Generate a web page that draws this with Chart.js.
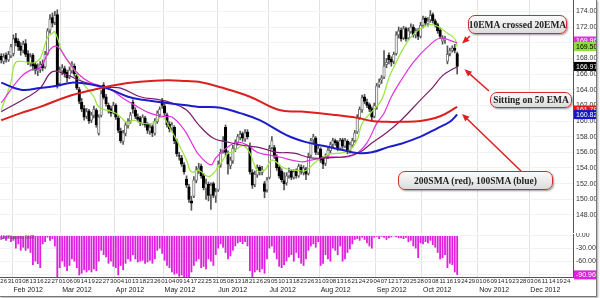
<!DOCTYPE html>
<html>
<head>
<meta charset="utf-8">
<script src="https://cdn.jsdelivr.net/npm/chart.js@4.4.0/dist/chart.umd.min.js"></script>
<style>
  html, body { margin: 0; padding: 0; background: #fff; }
  #wrap { position: relative; width: 600px; height: 298px; overflow: hidden; }
  #priceCanvas { position: absolute; left: 0; top: 0; }
  #wrCanvas { position: absolute; left: 0; top: 233px; }
  #frame { position: absolute; left: 0; top: 0; width: 596px; height: 296px; border-right: 1px solid #777; border-bottom: 1px solid #777; box-shadow: 1px 1px 2px rgba(0,0,0,.35); pointer-events: none; }
  .note { position: absolute; box-sizing: border-box; border: 1.5px solid #d02c2c; border-radius: 7px;
          background: linear-gradient(#fbfbfb, #dcdcdc); box-shadow: 1px 1px 2px rgba(0,0,0,.4);
          font-family: "Liberation Serif", serif; font-weight: bold; font-size: 9.5px; color: #222;
          display: flex; align-items: center; justify-content: center; white-space: nowrap; }
  #wrName { position: absolute; left: 1px; top: 234px; font: 6px "Liberation Sans", Arial, sans-serif; color: #555; }
</style>
</head>
<body>
<div id="wrap">
  <canvas id="priceCanvas" width="600" height="233"></canvas>
  <canvas id="wrCanvas" width="600" height="65"></canvas>
  <div id="wrName">Williams %R</div>
  <div class="note" style="left:468px;top:15px;width:99px;height:19px;">10EMA crossed 20EMA</div>
  <div class="note" style="left:490px;top:92px;width:82px;height:16px;">Sitting on 50 EMA</div>
  <div class="note" style="left:398px;top:171px;width:155px;height:19px;">200SMA (red), 100SMA (blue)</div>
  <div id="frame"></div>
</div>
<script>
// trading days, Jan 25 - Dec 27 2012
const holidays = ['2012-02-20', '2012-04-06', '2012-05-28', '2012-07-04', '2012-09-03', '2012-11-22', '2012-12-25'];
const dates = [];
for (let d = new Date(Date.UTC(2012, 0, 25)); d <= new Date(Date.UTC(2012, 11, 27)); d.setUTCDate(d.getUTCDate() + 1)) {
    const s = d.toISOString().slice(0, 10);
    if (d.getUTCDay() === 0 || d.getUTCDay() === 6 || holidays.includes(s)) continue;
    dates.push(s);
}
const monthNames = ['Jan', 'Feb', 'Mar', 'Apr', 'May', 'Jun', 'Jul', 'Aug', 'Sep', 'Oct', 'Nov', 'Dec'];

const opens = [
  168.3,167.6,168.4,167.8,168.3,168.6,170.6,170.2,169.6,169.0,
  169.9,168.6,167.4,168.4,167.2,166.4,166.6,167.3,166.9,168.6,
  171.6,173.2,172.6,173.6,164.8,166.4,166.7,166.2,165.6,166.4,
  167.0,165.8,164.0,162.4,161.6,160.6,161.3,160.1,160.7,161.4,
  158.4,160.7,164.6,163.1,162.0,161.6,161.1,162.0,160.4,158.7,
  157.4,158.4,159.4,160.0,162.4,161.4,160.5,160.4,159.7,160.4,
  159.6,158.7,159.3,158.4,159.9,160.8,162.6,161.9,160.8,159.6,
  159.1,159.2,157.4,155.6,155.3,154.4,152.6,151.6,149.8,150.4,
  152.4,153.7,154.2,153.0,151.4,151.9,150.6,152.0,150.4,151.2,
  154.4,156.2,159.2,155.8,154.3,154.9,156.4,157.2,157.9,158.4,
  157.7,158.6,156.8,153.4,151.9,153.1,154.1,153.4,152.0,151.2,
  152.8,156.6,156.6,155.4,154.1,153.6,152.4,152.1,153.0,153.6,
  152.8,153.6,153.0,154.1,153.4,153.9,153.3,155.6,157.6,157.8,
  156.0,156.4,155.3,154.6,155.5,156.2,157.0,157.5,157.3,156.5,
  157.6,156.8,157.4,156.2,156.9,157.5,158.6,160.4,161.4,163.1,
  162.4,162.1,161.6,160.6,161.8,164.6,165.2,165.6,167.2,168.4,
  167.9,167.6,168.6,171.0,171.6,170.6,171.8,170.6,171.4,172.0,
  171.0,171.6,170.8,172.2,173.1,172.4,172.9,173.6,172.8,172.3,
  171.6,170.2,170.4,167.6,168.6,169.0,169.3,168.6
];
const highs = [
  168.6,168.6,168.7,168.9,169.8,171.0,171.2,170.5,170.0,170.2,
  170.4,169.0,168.6,168.6,167.5,167.3,167.6,167.8,168.9,171.8,
  173.6,173.8,174.0,174.2,166.9,167.2,167.0,166.5,166.9,167.6,
  167.3,166.1,164.3,162.9,162.0,161.6,161.5,161.1,161.9,161.6,
  160.8,163.9,164.9,163.4,162.3,161.9,162.4,162.2,160.7,159.1,
  158.8,159.8,160.3,161.1,162.7,161.7,160.9,160.6,160.8,160.6,
  159.8,159.6,159.5,160.3,161.3,161.8,162.9,162.2,161.0,159.9,
  159.8,159.4,157.7,156.0,155.6,154.7,153.0,151.9,150.4,152.9,
  154.2,154.6,154.5,153.3,152.6,152.2,152.1,152.2,151.4,154.9,
  156.4,158.0,159.5,156.2,155.4,156.9,157.6,158.3,158.7,158.6,
  158.9,158.9,157.2,153.8,153.6,154.4,154.3,154.2,152.3,152.8,
  156.9,158.0,156.9,155.7,154.4,153.9,153.4,153.4,154.0,153.8,
  153.8,153.9,154.5,154.4,154.3,154.1,155.9,157.8,158.3,158.0,
  156.9,156.6,155.5,155.8,156.6,157.3,157.8,157.7,157.5,157.8,
  157.8,157.8,157.6,157.3,157.8,158.8,160.8,161.8,163.3,163.4,
  162.8,162.3,161.8,162.3,164.8,165.4,165.8,169.0,168.0,168.7,
  168.2,168.8,171.4,172.0,171.9,172.1,172.0,171.9,172.4,172.3,
  171.8,171.8,172.6,173.4,173.3,173.2,174.1,173.8,173.0,172.5,
  171.9,170.9,170.8,169.6,169.3,169.6,169.8,168.8
];
const lows = [
  167.4,167.3,167.5,167.6,168.1,168.3,169.6,169.0,168.4,168.7,
  168.2,167.2,167.0,166.5,166.0,165.8,166.2,166.4,166.7,168.4,
  171.2,172.0,172.3,164.2,164.6,165.9,165.6,165.0,165.4,166.1,
  165.7,164.0,162.2,161.2,160.1,160.3,159.7,159.8,160.4,159.2,
  158.2,160.5,162.8,161.9,161.0,160.6,160.9,160.2,158.5,157.2,
  157.0,158.1,159.1,159.7,161.0,160.3,159.9,159.4,159.5,159.2,
  158.4,158.3,158.0,158.2,159.7,160.5,161.6,160.7,159.2,158.6,
  158.7,157.1,155.5,155.0,154.2,153.2,151.5,149.6,148.6,150.2,
  152.1,153.3,152.7,151.2,150.0,149.8,148.7,150.2,149.6,151.0,
  154.1,155.9,155.6,153.2,153.9,154.6,156.1,156.9,157.6,157.4,
  157.4,157.7,153.2,151.4,151.6,152.8,153.1,153.1,150.2,150.9,
  152.6,156.4,155.2,153.7,152.7,152.2,151.2,151.8,152.7,152.5,
  152.6,152.7,152.8,153.2,153.1,152.5,153.1,155.4,157.2,155.7,
  155.7,154.7,153.9,154.3,155.2,155.9,156.7,156.9,156.2,156.3,
  156.5,156.6,155.8,155.9,156.6,157.3,158.4,160.2,161.1,162.2,
  161.7,161.2,160.0,160.4,161.5,164.3,164.8,165.4,166.8,167.3,
  167.0,167.3,168.4,170.6,170.2,170.4,170.2,170.4,171.2,170.7,
  170.6,170.4,170.6,171.9,172.2,172.1,172.6,172.5,172.0,171.2,
  170.5,169.8,169.9,167.3,168.3,168.8,168.7,166.0
];
const closes = [
  167.8,168.2,167.9,168.5,169.5,170.5,170.0,169.5,169.0,169.8,
  168.5,167.5,168.2,167.0,166.5,166.5,167.2,166.8,168.5,171.5,
  173.0,172.5,173.5,164.6,166.5,166.8,166.0,165.5,166.5,167.2,
  166.0,164.2,162.5,161.5,160.5,161.2,160.0,160.8,161.5,159.5,
  160.5,163.5,163.0,162.2,161.5,161.0,162.0,160.5,158.8,157.5,
  158.5,159.5,160.0,160.8,161.5,160.6,160.2,159.8,160.5,159.5,
  158.8,159.2,158.5,160.0,161.0,161.5,162.0,161.0,159.5,159.0,
  159.5,157.5,155.8,155.5,154.5,153.5,151.8,150.0,149.5,152.5,
  153.8,154.0,153.0,151.5,152.0,150.5,151.8,150.5,151.0,154.5,
  156.0,157.5,156.0,154.5,155.0,156.5,157.3,158.0,158.3,157.8,
  158.5,158.0,153.5,151.8,153.2,154.0,153.5,153.8,151.0,152.5,
  156.5,157.5,155.5,154.0,153.0,152.5,152.0,153.0,153.5,152.8,
  153.5,153.0,154.2,153.5,154.0,153.2,155.5,157.5,158.0,156.0,
  156.5,155.0,154.5,155.5,156.3,157.0,157.5,157.2,156.5,157.5,
  156.8,157.5,156.2,157.0,157.5,158.5,160.5,161.5,163.0,162.5,
  162.0,161.5,160.5,162.0,164.5,165.0,165.5,167.0,167.5,167.8,
  167.5,168.5,171.0,171.5,170.5,171.8,170.5,171.5,172.0,171.0,
  171.5,170.8,172.2,173.0,172.5,172.8,173.5,172.8,172.3,171.5,
  170.8,170.5,170.5,168.5,169.0,169.3,169.0,166.97
];

// moving averages: [day index, value]
const ema10Pts = [[0,161.4],[4,165.0],[6,167.5],[11,167.5],[13,167.4],[16,168.0],[19,170.7],[21,171.2],[22,171.4],[24,169.7],[25,168.8],[29,167.0],[33,165.0],[38,163.1],[40,161.8],[47,161.0],[52,159.7],[54,160.1],[58,159.7],[62,159.7],[66,160.5],[69,159.2],[73,156.9],[76,155.0],[78,153.5],[81,153.7],[85,152.9],[88,153.7],[93,155.9],[95,156.0],[99,156.9],[102,155.9],[105,153.7],[108,153.7],[111,155.0],[116,154.0],[121,153.7],[125,153.7],[129,154.8],[134,155.7],[139,155.9],[143,156.3],[146,157.6],[148,159.7],[152,161.2],[156,162.7],[159,165.5],[162,167.5],[165,169.3],[168,170.7],[172,171.8],[176,172.3],[179,172.1],[183,171.2],[186,170.5],[187,169.50]];
const ema20Pts = [[0,162.3],[8,165.6],[12,166.5],[16,166.8],[20,169.1],[23,169.5],[27,167.8],[32,165.9],[36,165.0],[45,164.0],[50,162.9],[56,161.8],[61,161.0],[66,160.6],[70,160.5],[75,158.9],[79,156.7],[81,155.7],[86,154.4],[88,155.3],[93,156.7],[97,157.3],[101,156.9],[105,156.0],[109,155.7],[114,155.4],[123,154.8],[127,155.0],[134,155.4],[142,155.4],[146,155.9],[150,157.2],[154,159.7],[157,161.0],[160,163.1],[164,165.2],[169,167.5],[175,169.5],[180,170.6],[184,170.3],[187,169.96]];
const ema50Pts = [[0,161.2],[11,163.1],[16,164.2],[21,166.3],[27,165.9],[32,165.2],[38,164.6],[43,164.3],[49,164.2],[57,163.1],[65,162.7],[70,162.3],[76,161.4],[81,159.5],[87,157.8],[93,157.3],[99,156.9],[106,156.6],[113,156.0],[120,155.9],[127,155.3],[134,155.3],[142,155.5],[147,156.0],[152,157.2],[158,158.5],[164,160.1],[172,162.7],[177,164.3],[181,165.8],[185,166.6],[187,166.9]];
const sma100Pts = [[0,164.9],[8,164.0],[16,164.2],[23,164.5],[29,164.9],[38,164.6],[45,164.0],[52,163.1],[58,162.7],[68,162.3],[76,162.0],[81,161.8],[90,161.7],[98,161.0],[106,160.1],[117,158.2],[125,157.3],[134,156.7],[140,156.3],[146,155.9],[152,156.0],[159,156.7],[164,157.1],[172,158.0],[179,159.1],[184,159.9],[187,160.82]];
const sma200Pts = [[0,160.1],[8,161.0],[16,161.8],[27,163.1],[38,164.0],[47,164.6],[57,165.0],[68,165.2],[76,165.1],[81,165.0],[90,164.3],[102,163.1],[114,161.4],[123,161.2],[136,160.8],[146,160.4],[152,160.0],[158,159.9],[164,159.9],[172,160.0],[180,160.6],[187,161.79]];

const williamsR = [
  -10,-8,-12,-5,-15,-12,-30,-20,-35,-28,
  -35,-30,-40,-68,-60,-66,-75,-20,-15,-5,
  -12,-8,-25,-97,-75,-60,-72,-82,-70,-55,
  -60,-75,-92,-88,-80,-85,-80,-85,-78,-82,
  -60,-35,-45,-50,-65,-60,-72,-75,-92,-70,
  -80,-65,-55,-60,-45,-55,-62,-60,-58,-65,
  -62,-58,-65,-55,-35,-30,-42,-58,-70,-75,
  -85,-90,-88,-95,-92,-96,-98,-96,-85,-70,
  -60,-55,-75,-72,-78,-55,-60,-70,-45,-30,
  -20,-28,-40,-55,-48,-35,-25,-18,-15,-20,
  -15,-25,-82,-97,-85,-80,-85,-78,-88,-55,
  -30,-25,-40,-55,-72,-75,-68,-60,-50,-45,
  -60,-40,-52,-65,-70,-55,-35,-25,-20,-28,
  -15,-70,-65,-45,-55,-60,-30,-35,-45,-25,
  -60,-55,-40,-32,-20,-10,-8,-12,-5,-10,
  -18,-25,-30,-5,-3,-8,-3,-5,-10,-6,
  -4,-2,-4,-6,-6,-8,-5,-15,-12,-25,
  -30,-52,-18,-20,-15,-18,-12,-22,-28,-40,
  -55,-52,-45,-75,-65,-68,-85,-90.96
];

const priceTicks = [148, 150, 152, 154, 156, 158, 160, 162, 164, 166, 168, 170, 172, 174];
const wrTicks = [0, -30, -60, -90];

const family = '"Liberation Sans", Arial, sans-serif';
const last = arr => arr[arr.length - 1];
const isMonthStart = i => i > 0 && dates[i].slice(5, 7) !== dates[i - 1].slice(5, 7);
const monthGrid = ctx => (ctx.type === 'tick' && isMonthStart(ctx.index)) ? '#e2e2e2' : 'rgba(0,0,0,0)';
const toLine = pts => pts.map(([i, v]) => ({ x: dates[i], y: v }));
const noPad = ax => { ax.paddingTop = 0; ax.paddingBottom = 0; ax.paddingLeft = 0; ax.paddingRight = 0; };

// coloured value tags on the right axis
function drawTags(chart, tags) {
    const { ctx } = chart;
    const y = chart.scales.y;
    ctx.save();
    ctx.font = '7px ' + family;
    ctx.textBaseline = 'middle';
    tags.forEach(t => {
        const py = y.getPixelForValue(t.value) + (t.shift || 0);
        ctx.fillStyle = t.bg;
        ctx.fillRect(574, py - 4.5, 22, 9);
        ctx.fillStyle = t.fg;
        ctx.fillText(t.value.toFixed(2), 576, py + 0.5);
    });
    ctx.restore();
}

const priceTags = {
    id: 'priceTags',
    afterDraw(chart) {
        drawTags(chart, [
            { value: last(ema20Pts)[1], bg: '#dd33dd', fg: '#fff', shift: -2 },
            { value: last(ema10Pts)[1], bg: '#8de03a', fg: '#000' },
            { value: last(closes), bg: '#000', fg: '#fff' },
            { value: last(sma200Pts)[1], bg: '#e01b1b', fg: '#fff', shift: 3 },
            { value: last(sma100Pts)[1], bg: '#1515d0', fg: '#fff' }
        ]);
        // red callout arrows, tips placed on the price scale
        const { ctx } = chart;
        const x = chart.scales.x, y = chart.scales.y;
        const arrows = [
            { from: [470, 36], at: [189, 169.9] },
            { from: [489, 91], at: [190, 166.6] },
            { from: [521, 171], at: [189, 160.9] }
        ];
        ctx.save();
        ctx.strokeStyle = '#dd2020';
        ctx.fillStyle = '#dd2020';
        ctx.lineWidth = 1.5;
        arrows.forEach(a => {
            const tx = x.getPixelForValue(a.at[0]), ty = y.getPixelForValue(a.at[1]);
            const [fx, fy] = a.from;
            const ang = Math.atan2(ty - fy, tx - fx);
            ctx.beginPath();
            ctx.moveTo(fx, fy);
            ctx.lineTo(tx - 5 * Math.cos(ang), ty - 5 * Math.sin(ang));
            ctx.stroke();
            ctx.beginPath();
            ctx.moveTo(tx, ty);
            ctx.lineTo(tx - 8 * Math.cos(ang - 0.4), ty - 8 * Math.sin(ang - 0.4));
            ctx.lineTo(tx - 8 * Math.cos(ang + 0.4), ty - 8 * Math.sin(ang + 0.4));
            ctx.closePath();
            ctx.fill();
        });
        ctx.restore();
    }
};

const wrTags = {
    id: 'wrTags',
    afterDraw(chart) {
        drawTags(chart, [{ value: last(williamsR), bg: '#dd22dd', fg: '#fff' }]);
    }
};

const lineDs = (pts, color, width) => ({
    type: 'line', data: toLine(pts), borderColor: color, borderWidth: width,
    pointRadius: 0, tension: 0.4, spanGaps: true, order: 1
});

new Chart(document.getElementById('priceCanvas'), {
    type: 'bar',
    data: {
        labels: dates,
        datasets: [
            lineDs(sma200Pts, '#dd1f1f', 2),
            lineDs(sma100Pts, '#1c1cc8', 2),
            lineDs(ema50Pts, '#7a1d6e', 1.2),
            lineDs(ema20Pts, '#e030e0', 1.2),
            lineDs(ema10Pts, '#99e63c', 1.2),
            {
                data: opens.map((o, i) => [o, closes[i]]),
                backgroundColor: opens.map((o, i) => closes[i] >= o ? '#fff' : '#000'),
                borderColor: opens.map((o, i) => closes[i] >= o ? '#777' : '#000'),
                borderWidth: 1, borderSkipped: false,
                barThickness: 2.6, grouped: false, order: 5
            },
            {
                data: lows.map((l, i) => [l, highs[i]]),
                backgroundColor: '#555', barThickness: 1, grouped: false, order: 6
            }
        ]
    },
    options: {
        responsive: false, animation: false, devicePixelRatio: 1,
        layout: { padding: 0 },
        plugins: { legend: { display: false }, tooltip: { enabled: false } },
        scales: {
            x: {
                type: 'category', offset: true,
                ticks: { display: false },
                grid: { drawTicks: false, color: monthGrid },
                border: { display: false },
                afterFit: ax => { noPad(ax); ax.height = 0; }
            },
            y: {
                position: 'right', min: 145.7, max: 175.45,
                afterBuildTicks: ax => { ax.ticks = priceTicks.map(v => ({ value: v })); },
                afterFit: ax => { noPad(ax); ax.width = 27; },
                ticks: { font: { size: 7, family }, color: '#333', padding: 1, callback: v => v.toFixed(2) },
                grid: { color: '#f2f2f2', tickLength: 2 },
                border: { color: '#555' }
            }
        }
    },
    plugins: [priceTags]
});

new Chart(document.getElementById('wrCanvas'), {
    type: 'bar',
    data: {
        labels: dates,
        datasets: [{ data: williamsR, backgroundColor: '#e020e0', barPercentage: 0.75, categoryPercentage: 1 }]
    },
    options: {
        responsive: false, animation: false, devicePixelRatio: 1,
        layout: { padding: { top: 1, bottom: 2 } },
        plugins: { legend: { display: false }, tooltip: { enabled: false } },
        scales: {
            x: {
                type: 'category', offset: true,
                ticks: { autoSkip: false, maxRotation: 0, minRotation: 0, padding: 1, font: { size: 6, family }, color: '#222',
                         callback: (v, i) => i % 3 === 1 ? dates[i].slice(8, 10) : '' },
                grid: { drawTicks: false, color: monthGrid },
                border: { color: '#555' },
                afterFit: ax => { noPad(ax); ax.height = 9; }
            },
            x2: {
                type: 'category', labels: dates, position: 'bottom', offset: true,
                ticks: { autoSkip: false, maxRotation: 0, minRotation: 0, align: 'start', padding: 0, font: { size: 7, family }, color: '#222',
                         callback: (v, i) => isMonthStart(i) ? monthNames[+dates[i].slice(5, 7) - 1] + ' 2012' : '' },
                grid: { display: false, drawTicks: false },
                border: { display: false },
                afterFit: ax => { noPad(ax); ax.height = 10; }
            },
            y: {
                position: 'right', min: -95.8, max: 3.5,
                afterBuildTicks: ax => { ax.ticks = wrTicks.map(v => ({ value: v })); },
                afterFit: ax => { noPad(ax); ax.width = 27; },
                ticks: { font: { size: 7, family }, color: '#333', padding: 1, callback: v => v.toFixed(2) },
                grid: { color: '#f2f2f2', tickLength: 2 },
                border: { color: '#555' }
            }
        }
    },
    plugins: [wrTags]
});
</script>
</body>
</html>
